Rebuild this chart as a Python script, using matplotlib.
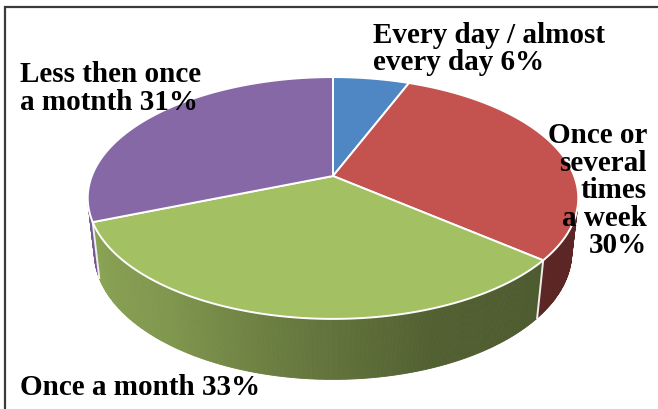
import numpy as np
import matplotlib
matplotlib.use("Agg")
import matplotlib.pyplot as plt
from matplotlib.patches import Polygon
from matplotlib.colors import to_rgb

# ---- data -------------------------------------------------------------
categories = ["Every day / almost\nevery day",
              "Once or\nseveral\ntimes\na week",
              "Once a month",
              "Less then once\na motnth"]
shares = [6, 30, 33, 31]
value_sep = [" ", "\n", " ", " "]
top_colors = ["#4f87c4", "#c4524f", "#a3c063", "#8768a7"]

# ---- 3-D pie geometry (perspective view of a flat cylinder) ------------
ELEV = np.radians(29.0)   # camera elevation
DIST = 4.81               # camera distance in pie radii
SCALE = 1160.0            # pixels per projected unit
CX, CY = 333.0, 177.0     # screen position of the pie's centre
THICK = 0.26              # cylinder height in pie radii
se, ce = np.sin(ELEV), np.cos(ELEV)


def project(theta_deg, z, r=1.0):
    t = np.radians(np.asarray(theta_deg, dtype=float))
    X, Y = r * np.sin(t), r * np.cos(t)
    yc = se * Y + ce * z
    zc = ce * Y - se * z + DIST
    return CX + SCALE * X / zc, CY - SCALE * yc / zc


def side_shade(theta):
    return np.interp(theta, [100, 130, 160, 185, 215, 260],
                     [0.46, 0.47, 0.50, 0.62, 0.78, 0.88])


fig = plt.figure(figsize=(6.58, 4.10), dpi=100)
ax = fig.add_axes([0, 0, 1, 1])
ax.set_xlim(0, 658)
ax.set_ylim(410, 0)
ax.axis("off")

# frame
ax.plot([5, 5, 658], [410, 8, 8], color="#3a3a3a", lw=1.6,
        solid_joinstyle="miter")

bounds = np.concatenate([[0], np.cumsum(shares)]) * 3.6

# side wall is visible where its normal faces the camera
lim = np.degrees(np.arccos(-1.0 / (DIST * ce)))
vis_lo, vis_hi = lim, 360 - lim

for i, col in enumerate(top_colors):
    a0, a1 = max(bounds[i], vis_lo), min(bounds[i + 1], vis_hi)
    if a1 <= a0:
        continue
    base = np.array(to_rgb(col))
    edges = np.linspace(a0, a1, max(2, int((a1 - a0) / 0.5) + 1))
    for t0, t1 in zip(edges[:-1], edges[1:]):
        xt, yt = project([t0, t1], 0.0)
        xb, yb = project([t1, t0], -THICK)
        c = np.clip(base * side_shade(0.5 * (t0 + t1)), 0, 1)
        ax.add_patch(Polygon(np.column_stack([np.r_[xt, xb], np.r_[yt, yb]]),
                             closed=True, facecolor=c, edgecolor=c, lw=0.6))

# white seam on the wall where two visible slices meet
for b in bounds[1:-1]:
    if vis_lo < b < vis_hi:
        x0, y0 = project(b, 0.0)
        x1, y1 = project(b, -THICK)
        ax.plot([x0, x1], [y0, y1], color="white", lw=1.4, alpha=0.9)

# top faces
for i, col in enumerate(top_colors):
    th = np.linspace(bounds[i], bounds[i + 1], 200)
    xs, ys = project(th, 0.0)
    pts = np.column_stack([np.r_[CX, xs], np.r_[CY, ys]])
    ax.add_patch(Polygon(pts, closed=True, facecolor=col,
                         edgecolor="white", lw=1.4, joinstyle="round"))

# ---- labels (anchored at the baseline of each label's last line) -------
labels = [c + s + f"{v}%" for c, s, v in zip(categories, value_sep, shares)]
font = dict(family=["Liberation Serif", "DejaVu Serif"], weight="bold",
            size=21, color="black")
ax.text(373, 70, labels[0], ha="left", va="baseline", linespacing=1.0,
        **font)
ax.text(647, 253, labels[1], ha="right", va="baseline", linespacing=1.02,
        multialignment="right", **font)
ax.text(20, 395, labels[2], ha="left", va="baseline", **font)
ax.text(20, 110, labels[3], ha="left", va="baseline", linespacing=1.05,
        **font)

fig.savefig("out.png", dpi=100)
